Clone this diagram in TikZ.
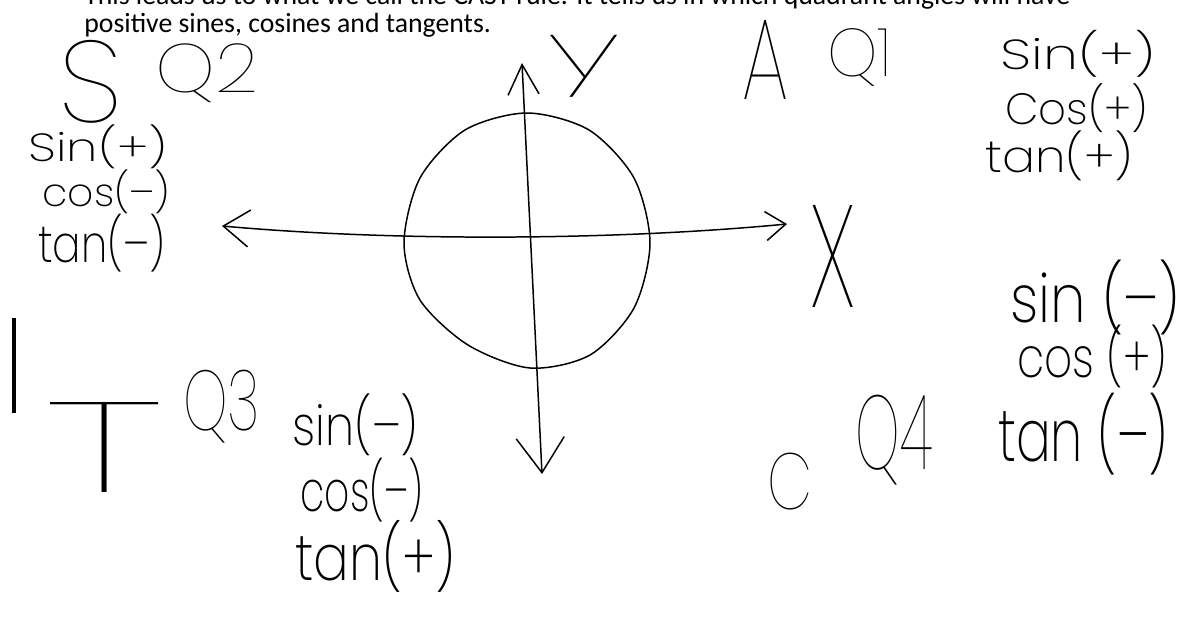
\documentclass[tikz,border=0pt]{standalone}
\usepackage{fontspec}
\usepackage{graphicx}
\setmainfont{Carlito}
\IfFontExistsTF{Poppins ExtraLight}{\newfontfamily\handfont{Poppins ExtraLight}}{%
  \IfFontExistsTF{DejaVu Sans ExtraLight}{\newfontfamily\handfont{DejaVu Sans ExtraLight}}{%
    \IfFontExistsTF{Fira Sans Light}{\newfontfamily\handfont{Fira Sans Light}}{%
      \newcommand{\handfont}{\sffamily}}}}
\IfFontExistsTF{Poppins Thin}{\newfontfamily\bigfont{Poppins Thin}}{%
  \newcommand{\bigfont}{\handfont}}
\usetikzlibrary{arrows.meta}
\newdimen\pxu \pxu=0.02cm
\newcommand{\hw}[3]{\resizebox*{#1\pxu}{#2\pxu}{\handfont #3}}
\newcommand{\hb}[3]{\resizebox*{#1\pxu}{#2\pxu}{\bigfont #3}}

\begin{document}
\begin{tikzpicture}[
  x=0.02cm, y=-0.02cm,
  ink/.style={line width=0.85pt, line cap=round, line join=round},
  hand/.style={inner sep=0pt, anchor=north west},
  lead/.style={inner sep=0pt, anchor=base west, font=\fontsize{15.8pt}{19pt}\selectfont},
]
\useasboundingbox (0,0) rectangle (1180,618);
\clip (0,0) rectangle (1180,618);
\fill[white] (0,0) rectangle (1180,618);

\node[lead] (lead1) at (84,5) {This leads us to what we call the CAST rule. It tells us in which quadrant angles will have};
\node[lead] (lead2) at (84,33) {positive sines, cosines and tangents.};

\coordinate (xneg) at (222,226);
\coordinate (xpos) at (787,224);
\coordinate (ypos) at (522,63);
\coordinate (yneg) at (542,474);
\coordinate (bartop) at (14,318);
\coordinate (barbot) at (14,413);

\draw[ink] plot[smooth cycle] coordinates {(650,243) (634,178) (589,130) (527,113)
  (465,130) (420,178) (404,243) (420,300) (468,345) (530,368) (590,355) (634,308)};
\draw[ink, {Straight Barb[length=0.52cm, width=0.74cm]}-{Straight Barb[length=0.4cm, width=0.58cm]}]
  (xneg) .. controls (400,242) and (620,240) .. (xpos);
\draw[ink, {Straight Barb[length=0.6cm, width=0.62cm]}-{Straight Barb[length=0.7cm, width=0.96cm]}]
  (ypos) -- (yneg);
\draw[line width=1.8pt] (bartop) -- (barbot);

\node[hand] (bigS) at (58,40) {\hb{64}{83}{S}};
\node[hand] (q2) at (155,43) {\hb{103}{59}{Q2}};
\node[hand] (sinL) at (28,124) {\hw{139}{44}{Sin(+)}};
\node[hand] (cosL) at (42,169) {\hw{128}{44}{cos(–)}};
\node[hand] (tanL) at (38,214) {\hw{127}{58}{tan(–)}};

\node[hand] (ylab) at (547,35) {\hb{73}{62}{y}};
\node[hand] (bigA) at (742,20) {\hb{46}{79}{A}};
\node[hand] (q1) at (827,28) {\hb{65}{58}{Q1}};
\node[hand] (sinR) at (1000,30) {\hw{155}{47}{Sin(+)}};
\node[hand] (cosR) at (1005,83) {\hw{143}{49}{Cos(+)}};
\node[hand] (tanR) at (985,130) {\hw{148}{50}{tan(+)}};
\node[hand] (xlab) at (810,205) {\hb{45}{102}{x}};

\node[hand] (bigT) at (45,402) {\hb{118}{90}{T}};
\node[hand] (q3) at (183,370) {\hb{77}{73}{Q3}};
\node[hand] (sinB) at (292,393) {\hw{126}{62}{sin(–)}};
\node[hand] (cosB) at (300,458) {\hw{123}{64}{cos(–)}};
\node[hand] (tanB) at (295,520) {\hw{160}{72}{tan(+)}};

\node[hand] (bigC) at (767,453) {\hb{45}{57}{C}};
\node[hand] (q4) at (855,395) {\hb{77}{90}{Q4}};
\node[hand] (sinD) at (1010,260) {\hw{170}{75}{sin (–)}};
\node[hand] (cosD) at (1017,325) {\hw{150}{63}{cos (+)}};
\node[hand] (tanD) at (998,393) {\hw{170}{82}{tan (–)}};
\end{tikzpicture}
\end{document}
